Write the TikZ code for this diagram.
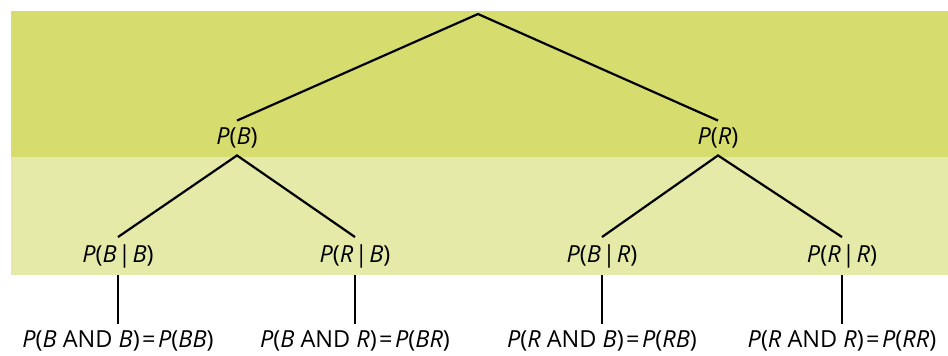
\documentclass[tikz,border=0pt]{standalone}
\usepackage{fontspec}
\setmainfont{Open Sans}
\usepackage{tikz}
\definecolor{banddark}{HTML}{D6DC6E}
\definecolor{bandlight}{HTML}{E5EAA9}
\newcommand{\ev}[1]{\textit{#1}}
\newcommand{\pr}[1]{\ev{P}(#1)}
\newcommand{\given}{\kern1.5pt|\kern1.5pt}

\begin{document}
\begin{tikzpicture}[x=1pt, y=-1pt,
    prob/.style={font=\fontsize{23.5}{26}\selectfont, inner sep=7pt},
    branch/.style={line width=2.2pt},
  ]
  \useasboundingbox (0,0) rectangle (948,356);
  % bands
  \fill[banddark] (11,11) rectangle (948,157);
  \fill[bandlight] (11,157) rectangle (948,275);
  % first draw
  \coordinate (root) at (478,14);
  \node[prob] (b) at (237,138) {\pr{\ev{B}}};
  \node[prob] (r) at (718,138) {\pr{\ev{R}}};
  \draw[branch] (b.north) -- (root) -- (r.north);
  % second draw and joint outcomes
  \foreach \nm/\x/\a/\c in {bb/118/B/B, rb/355/R/B, br/602/B/R, rr/842/R/R} {
    \node[prob] (\nm) at (\x,256) {\pr{\ev{\a}\given\ev{\c}}};
    \node[prob] (j\nm) at (\x,341) {\pr{\ev{\c} AND \ev{\a}}\kern2.5pt=\kern2.5pt\pr{\ev{\c\a}}};
    \draw[branch] (\nm.south) -- (j\nm.north);
  }
  \draw[branch] (bb.north) -- (b.south) -- (rb.north);
  \draw[branch] (br.north) -- (r.south) -- (rr.north);
\end{tikzpicture}
\end{document}
